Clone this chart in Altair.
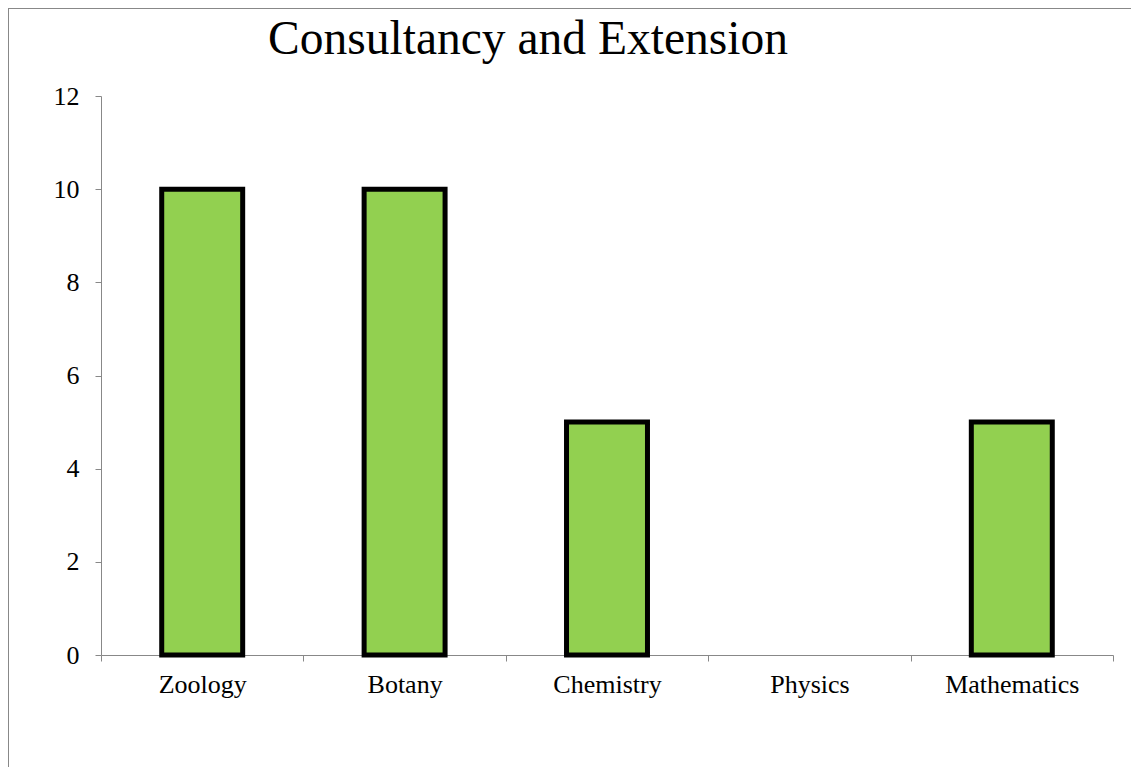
import altair as alt
import pandas as pd

departments = ["Zoology", "Botany", "Chemistry", "Physics", "Mathematics"]
values = [10, 10, 5, 0, 5]

df = pd.DataFrame({"Department": departments, "Value": values})

W, H = 1012, 559
FONT = "Liberation Serif"

bars = alt.Chart(df).mark_bar(
    color="#92D050", stroke="black", strokeWidth=5, width=alt.RelativeBandSize(0.4)
).encode(
    x=alt.X("Department:N", sort=departments, title=None,
            scale=alt.Scale(paddingInner=0, paddingOuter=0),
            axis=alt.Axis(labelAngle=0, tickBand="extent", labelFontSize=26,
                          labelPadding=10, tickSize=6, labelFont=FONT,
                          labelColor="black", domainColor="#888888",
                          tickColor="#888888")),
    y=alt.Y("Value:Q", title=None,
            scale=alt.Scale(domain=[0, 12]),
            axis=alt.Axis(values=[0, 2, 4, 6, 8, 10, 12], grid=False,
                          labelFontSize=26, labelPadding=16, tickSize=6,
                          labelFont=FONT, labelColor="black",
                          domainColor="#888888", tickColor="#888888")),
    opacity=alt.condition(alt.datum.Value > 0, alt.value(1), alt.value(0)),
)

left_border = alt.Chart(df).mark_rule(color="#888888", strokeWidth=1.5, clip=False).encode(
    x=alt.value(-93), y=alt.value(-88), y2=alt.value(H + 130)
)
top_border = alt.Chart(df).mark_rule(color="#888888", strokeWidth=1.5, clip=False).encode(
    x=alt.value(-93), x2=alt.value(W + 60), y=alt.value(-88)
)

chart = alt.layer(bars, left_border, top_border).properties(
    width=W, height=H,
    title=alt.TitleParams("Consultancy and Extension", font=FONT, fontSize=47.5,
                          fontWeight="normal", color="black", anchor="middle",
                          frame="group", baseline="alphabetic",
                          dx=-79, dy=94, offset=0),
    autosize=alt.AutoSizeParams(type="none"),
    padding={"left": 93, "top": 88, "right": 18, "bottom": 112},
).configure_view(stroke=None)

chart.save("out.html", embed_options={"renderer": "svg", "actions": False})
